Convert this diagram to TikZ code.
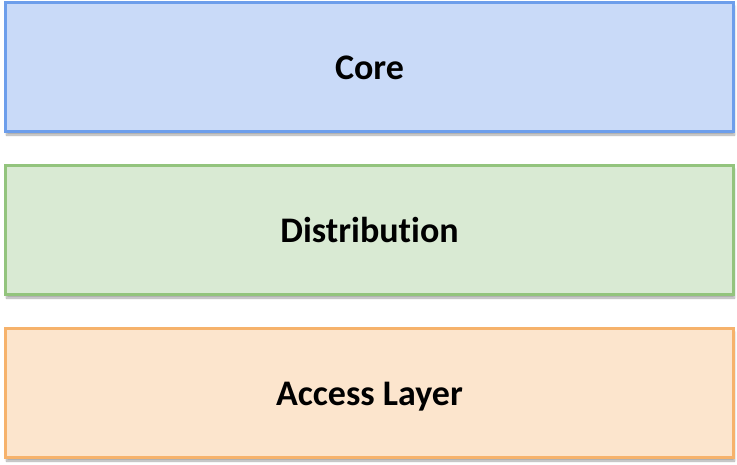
\documentclass[tikz,border=0pt]{standalone}
\usepackage{fontspec}
\setmainfont[Ligatures=NoCommon]{Carlito}
\usetikzlibrary{positioning,shadows.blur}
\definecolor{corefill}{HTML}{C9DAF8}
\definecolor{coreline}{HTML}{6D9EEB}
\definecolor{distfill}{HTML}{D9EAD3}
\definecolor{distline}{HTML}{93C47D}
\definecolor{accfill}{HTML}{FCE5CD}
\definecolor{accline}{HTML}{F6B26B}
\tikzset{
  layer/.style={rectangle,line width=3pt,minimum width=728pt,minimum height=129pt,
    inner sep=0pt,text height=26pt,text depth=0pt,font=\fontsize{36}{40}\selectfont\bfseries,
    blur shadow={shadow xshift=1pt,shadow yshift=-4pt,shadow blur steps=6,shadow opacity=35}}
}
\begin{document}
\begin{tikzpicture}[x=1pt,y=1pt,node distance=31pt]
\useasboundingbox (0,0) rectangle (737,-464);
% Capas
\node[layer,draw=coreline,fill=corefill] (core) at (369.5,-66.5) {Core};
\node[layer,draw=distline,fill=distfill,below=of core] (dist) {Distribution};
\node[layer,draw=accline,fill=accfill,below=of dist] (access) {Access Layer};
\end{tikzpicture}
\end{document}
